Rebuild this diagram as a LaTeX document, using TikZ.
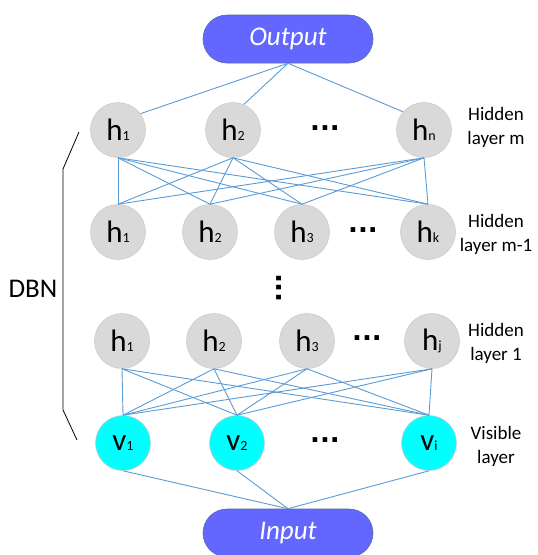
\documentclass[tikz,border=0pt]{standalone}
\usepackage{fontspec}
\setmainfont{Carlito}
\newfontfamily\dotfont{DejaVu Sans}
\definecolor{dbnblue}{RGB}{99,102,255}
\definecolor{dbnedge}{RGB}{80,110,170}
\definecolor{dbnline}{RGB}{91,155,213}
\definecolor{dbngray}{RGB}{217,217,217}
\definecolor{dbncyan}{RGB}{0,255,255}
\newcommand{\neuron}[2]{{\fontsize{31}{31}\selectfont #1}{\fontsize{14}{14}\selectfont #2}}

\begin{document}
\begin{tikzpicture}[
  x=1pt, y=-1pt,
  pill/.style={draw=dbnedge, fill=dbnblue, text=white, rounded corners=24pt,
               minimum width=170pt, minimum height=48pt, line width=0.6pt,
               font=\fontsize{27}{27}\selectfont\itshape},
  hid/.style={circle, draw=black!20, fill=dbngray, minimum size=55pt,
              inner sep=0pt, line width=0.6pt},
  vis/.style={hid, fill=dbncyan},
  link/.style={dbnline, line width=0.9pt},
  lbl/.style={align=center, font=\fontsize{19}{24}\selectfont},
  dots/.style={inner sep=0pt, font=\dotfont\fontsize{26}{26}\selectfont\bfseries}
]
\useasboundingbox (0,0) rectangle (538,555);

\node[pill] (out) at (288,39) {Output};
\node[pill] (in) at (288,533) {Input};

% hidden layer m
\node[hid] (m1) at (118,130) {\neuron{h}{1}};
\node[hid] (m2) at (233,130) {\neuron{h}{2}};
\node[dots] (mdots) at (325,128) {...};
\node[hid] (mn) at (424,130) {\neuron{h}{n}};

% hidden layer m-1
\node[hid] (k1) at (118,232) {\neuron{h}{1}};
\node[hid] (k2) at (210,232) {\neuron{h}{2}};
\node[hid] (k3) at (302,232) {\neuron{h}{3}};
\node[dots] (kdots) at (363,230) {...};
\node[hid] (kk) at (428,232) {\neuron{h}{k}};

\node[dots, rotate=90] (vdots) at (279,288) {...};

% hidden layer 1
\node[hid] (a1) at (122,341) {\neuron{h}{1}};
\node[hid] (a2) at (214,341) {\neuron{h}{2}};
\node[hid] (a3) at (307,341) {\neuron{h}{3}};
\node[dots] (adots) at (367,338) {...};
\node[hid] (aj) at (432,341) {\neuron{h}{j}};

% visible layer
\node[vis] (v1) at (123,443) {\neuron{v}{1}};
\node[vis] (v2) at (237,443) {\neuron{v}{2}};
\node[dots] (vdotsh) at (325,440) {...};
\node[vis] (vi) at (429,443) {\neuron{v}{i}};

% layer labels
\node[lbl] (lm) at (496,127) {Hidden\\layer m};
\node[lbl] (lk) at (496,234) {Hidden\\layer m-1};
\node[lbl] (la) at (496,343) {Hidden\\layer 1};
\node[lbl] (lv) at (496,446) {Visible\\layer};

% DBN bracket
\node[font=\fontsize{27}{27}\selectfont] (dbn) at (33,289) {DBN};
\draw[line width=0.8pt] (79,132) -- (63,169) -- (63,410) -- (77,440);

% connections
\draw[link] (out.south) -- (m1.36);
\draw[link] (out.south) -- (m2.67);
\draw[link] (out.south) -- (mn.139);
\foreach \a in {m1,m2,mn}
  \foreach \b in {k1,k2,k3,kk}
    \draw[link] (\a.south) -- (\b.north);
\foreach \a in {a1,a2,a3,aj}
  \foreach \b in {v1,v2,vi}
    \draw[link] (\a.south) -- (\b.north);
\foreach \a in {v1,v2,vi}
  \draw[link] (\a.south) -- (in.north);
\end{tikzpicture}
\end{document}
